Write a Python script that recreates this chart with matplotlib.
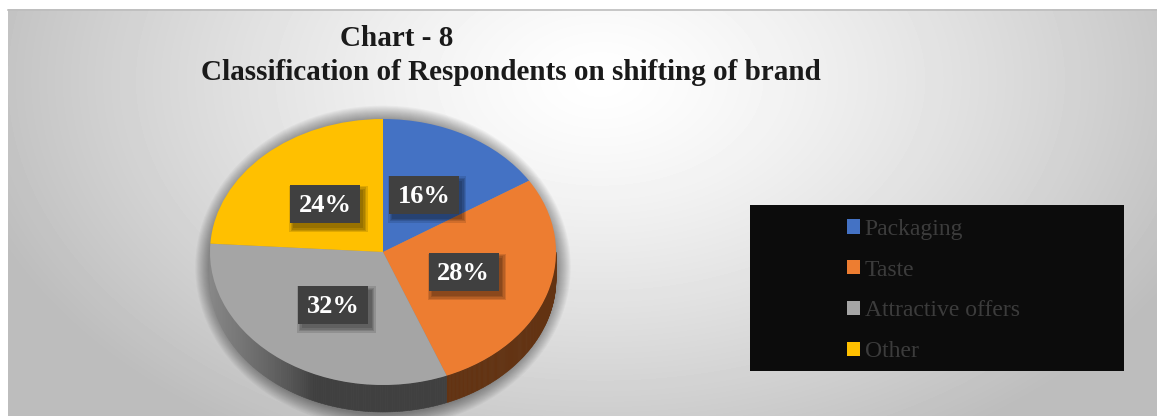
import numpy as np
import matplotlib
matplotlib.use("Agg")
import matplotlib.pyplot as plt
from matplotlib.patches import Rectangle, Polygon, Ellipse

# data
categories = ["Packaging", "Taste", "Attractive offers", "Other"]
shares = [16, 28, 32, 24]
colors = ["#4472C4", "#ED7D31", "#A5A5A5", "#FFC000"]

title_1 = "Chart - 8"
title_2 = "Classification of Respondents on shifting of brand"

W, H = 1157, 416
fig = plt.figure(figsize=(W / 100, H / 100), dpi=100, facecolor="white")

# background panel in pixel coordinates
bg = fig.add_axes([0, 0, 1, 1])
bg.set_xlim(0, W)
bg.set_ylim(H, 0)
bg.axis("off")

yy, xx = np.mgrid[9:H:1.0, 8:W:1.0]
r = np.sqrt(((xx - 600) / 650) ** 2 + ((yy - 80) / 420) ** 2)
shade = 1.0 - 0.26 * np.clip(r, 0, 1) ** 1.3
bg.imshow(shade, cmap="gray", vmin=0, vmax=1, extent=[8, W, H, 9],
          aspect="auto", interpolation="bilinear", zorder=0)
bg.plot([8, W], [9.5, 9.5], color="#bdbdbd", lw=1.2, zorder=1)

bg.text(397, 38, title_1, ha="center", va="center", fontsize=21,
        fontweight="bold", family="Liberation Serif", color="#1a1a1a")
bg.text(511, 72, title_2, ha="center", va="center", fontsize=21,
        fontweight="bold", family="Liberation Serif", color="#1a1a1a")

# legend panel
bg.add_patch(Rectangle((750, 205), 374, 166, facecolor="#0c0c0c",
                       edgecolor="none", zorder=2))

# pie axes: stretched so the circle becomes a tilted ellipse
depth = 27 / 133
cx0, cy_top, a_px, b_px = 383, 252, 173, 133
left = (cx0 - a_px) / W
bottom = (H - (cy_top + b_px + 27)) / H
pax = fig.add_axes([left, bottom, 2 * a_px / W, (2 * b_px + 27) / H])
pax.patch.set_alpha(0)

# soft shadow around the pie
for k in range(14):
    grow = 0.085 - k * 0.006
    pax.add_patch(Ellipse((0.0, -depth / 2 - 0.01), 2 + 2 * grow, 2 + depth + 2 * grow * 1.3,
                          facecolor="black", alpha=0.03, edgecolor="none",
                          zorder=0, clip_on=False))

wedges, _ = pax.pie(shares, colors=colors, startangle=90, counterclock=False,
                    radius=1, wedgeprops=dict(linewidth=0))
for w in wedges:
    w.set_zorder(3)

# side wall of the front half
bounds = np.concatenate([[0], np.cumsum(shares)]) / sum(shares) * 360
for i in range(len(shares)):
    lo, hi = max(bounds[i], 90), min(bounds[i + 1], 270)
    if hi <= lo:
        continue
    th = np.radians(np.linspace(lo, hi, 140))
    for t1, t2 in zip(th[:-1], th[1:]):
        x1, y1 = np.sin(t1), np.cos(t1)
        x2, y2 = np.sin(t2), np.cos(t2)
        if i == 1:
            c = (0.39, 0.20, 0.07)
        elif i == 2:
            g = (64 + 72 * np.clip((-0.40 - x1) / 0.60, 0, 1) ** 0.8) / 255
            c = (g, g, g)
        else:
            c = tuple(0.6 * np.array(matplotlib.colors.to_rgb(colors[i])))
        pax.add_patch(Polygon([(x1, y1), (x2, y2), (x2, y2 - depth), (x1, y1 - depth)],
                              closed=True, facecolor=c, edgecolor=c, lw=0.4,
                              zorder=2, clip_on=False))

pax.set_aspect("auto")
pax.set_xlim(-1, 1)
pax.set_ylim(-1 - depth, 1)
pax.axis("off")

# value labels in dark boxes
bw, bh = 70 / a_px, 38 / b_px
for i, v in enumerate(shares):
    mid = np.radians((bounds[i] + bounds[i + 1]) / 2)
    lx, ly = 0.49 * np.sin(mid), 0.49 * np.cos(mid)
    for k in range(4):
        e = 0.008 * (3 - k)
        pax.add_patch(Rectangle((lx - bw / 2 + 0.02 - e, ly - bh / 2 - 0.035 - e * 1.3),
                                bw + 2 * e, bh + 2 * e * 1.3,
                                facecolor="black", alpha=0.12, edgecolor="none", zorder=4))
    pax.add_patch(Rectangle((lx - bw / 2, ly - bh / 2), bw, bh,
                            facecolor="#404040", edgecolor="none", zorder=5))
    pax.text(lx, ly - 0.01, f"{v}%", ha="center", va="center", fontsize=19,
             fontweight="bold", family="Liberation Serif", color="white", zorder=6)

leg = fig.legend(wedges, categories, loc="upper left",
                 bbox_to_anchor=(835 / W, 1 - 207 / H), frameon=False,
                 prop=dict(family="Liberation Serif", size=17),
                 labelcolor="#3c3c3c", handlelength=0.55, handleheight=0.55,
                 handletextpad=0.2, labelspacing=0.84, borderpad=0)
leg.set_zorder(10)

fig.savefig("out.png", dpi=100, facecolor="white")
